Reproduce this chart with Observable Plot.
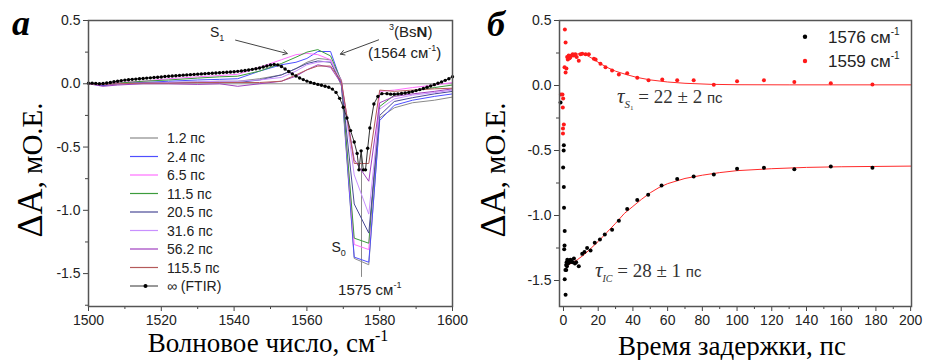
<!DOCTYPE html>
<html><head><meta charset="utf-8">
<script src="https://cdn.jsdelivr.net/npm/d3@7"></script>
<script src="https://cdn.jsdelivr.net/npm/@observablehq/plot@0.6"></script>
<style>
body{margin:0;background:#fff;}
#wrap{position:relative;width:925px;height:360px;overflow:hidden;background:#fff;}
#a{position:absolute;left:0;top:0;z-index:2;}
#b{position:absolute;left:460px;top:0;z-index:1;}
</style></head><body><div id="wrap"><div id="a"></div><div id="b"></div></div>
<script>
// ---------- Panel а: transient spectra ----------
const wavenumbers = [1500, 1504, 1508, 1515, 1522, 1530, 1536, 1541, 1547, 1553, 1557, 1560, 1563, 1566.5, 1569.5, 1573, 1577, 1580, 1584, 1589, 1595, 1600];
const spec_1_2   = [0, 0, 0.005, 0.01, 0.01, 0.015, 0.02, 0.02, 0.04, 0.07, 0.12, 0.17, 0.2, 0.19, -0.02, -1.38, -1.43, -0.27, -0.19, -0.15, -0.13, -0.105];
const spec_2_4   = [0, -0.015, 0, 0.01, 0.02, 0.03, 0.035, 0.04, 0.1, 0.15, 0.17, 0.2, 0.255, 0.255, 0.01, -1.37, -1.41, -0.29, -0.17, -0.13, -0.1, -0.08];
const spec_6_5   = [0, 0, 0.01, 0.02, 0.04, 0.055, 0.065, 0.075, 0.13, 0.19, 0.23, 0.24, 0.23, 0.19, 0.03, -1.27, -1.31, -0.06, -0.05, -0.03, -0.01, 0.01];
const spec_11_5  = [0, -0.005, 0.005, 0.02, 0.03, 0.045, 0.055, 0.06, 0.1, 0.16, 0.21, 0.25, 0.27, 0.22, 0.02, -1.22, -1.26, -0.18, -0.09, -0.06, -0.03, -0.01];
const spec_20_5  = [0, -0.01, 0, 0.005, 0.01, 0.01, 0.01, 0.01, 0.03, 0.07, 0.12, 0.16, 0.18, 0.17, 0.0, -0.95, -1.18, -0.25, -0.14, -0.11, -0.08, -0.06];
const spec_31_6  = [0, -0.005, 0, 0.005, 0.01, 0.015, 0.02, 0.02, 0.03, 0.05, 0.1, 0.15, 0.17, 0.18, 0.02, -0.72, -1.03, -0.2, -0.12, -0.09, -0.07, -0.05];
const spec_56_2  = [0, -0.02, -0.01, 0, 0, -0.005, 0, -0.02, 0.0, 0.02, 0.06, 0.11, 0.15, 0.13, 0.0, -0.6, -0.77, -0.15, -0.1, -0.08, -0.06, -0.04];
const spec_115_5 = [0, -0.005, 0, 0.005, 0.005, 0.01, 0.01, 0.01, 0.01, 0.02, 0.07, 0.11, 0.14, 0.14, 0.02, -0.63, -0.63, -0.05, -0.06, -0.05, -0.04, -0.035];
const delayLabels = ["1.2 пс", "2.4 пс", "6.5 пс", "11.5 пс", "20.5 пс", "31.6 пс", "56.2 пс", "115.5 пс"];
const delayColors = ["#8a8a8a", "#4f4fff", "#ff70ff", "#3c9c3c", "#4a4a96", "#c890ff", "#a040c0", "#b45a5a"];
const seriesValues = [spec_1_2, spec_2_4, spec_6_5, spec_11_5, spec_20_5, spec_31_6, spec_56_2, spec_115_5];

const ftirWn = [1500,1501,1502,1503,1504,1505,1506,1507,1508,1509,1510,1511,1512,1513,1514,1515,1516,1517,1518,1519,1520,1521,1522,1523,1524,1525,1526,1527,1528,1529,1530,1531,1532,1533,1534,1535,1536,1537,1538,1539,1540,1541,1542,1543,1544,1545,1546,1547,1548,1549,1550,1551,1552,1553,1554,1555,1556,1557,1558,1559,1560,1561,1562,1563,1564,1565,1566,1567,1568,1569,1570,1571,1572,1573,1573.8,1574.3,1574.9,1575.5,1576.1,1576.7,1577.3,1578.4,1579.5,1580.6,1582,1583,1584,1585,1586,1587,1588,1589,1590,1591,1592,1593,1594,1595,1596,1597,1598,1599,1600];
const ftirDA = [0.005,0.005,0.003,0.0,0.002,0.006,0.01,0.016,0.02,0.025,0.029,0.032,0.035,0.037,0.04,0.042,0.045,0.047,0.049,0.052,0.054,0.057,0.059,0.061,0.063,0.066,0.068,0.07,0.072,0.074,0.076,0.078,0.08,0.082,0.083,0.085,0.087,0.089,0.091,0.093,0.095,0.098,0.101,0.105,0.109,0.114,0.119,0.125,0.132,0.14,0.148,0.153,0.149,0.136,0.117,0.097,0.078,0.061,0.046,0.033,0.021,0.011,0.003,-0.005,-0.012,-0.02,-0.028,-0.042,-0.068,-0.115,-0.185,-0.27,-0.37,-0.46,-0.55,-0.68,-0.53,-0.68,-0.68,-0.51,-0.35,-0.16,-0.1,-0.078,-0.078,-0.082,-0.082,-0.08,-0.077,-0.073,-0.068,-0.062,-0.054,-0.046,-0.037,-0.027,-0.017,-0.007,0.004,0.015,0.027,0.04,0.055];

const xTicksA = [1500, 1520, 1540, 1560, 1580, 1600];
const xMinorA = [1510, 1530, 1550, 1570, 1590];
const yTicksA = [-1.5, -1.0, -0.5, 0.0, 0.5];
const yMinorA = [-1.75, -1.25, -0.75, -0.25, 0.25];
const arrowsA = [{x1: 1540.4, y1: 0.345, x2: 1554.6, y2: 0.239}, {x1: 1579.7, y1: 0.347, x2: 1569.2, y2: 0.234}];

// ---------- Panel б: kinetics ----------
const t1576 = [-1.7,0.2,0.1,-0.2,0.2,0.3,0.7,0.6,0.4,1.1,0.7,1.2,1.5,1.8,2.2,2.6,3,3.5,4,4.6,5.2,6,6.6,7.3,8.8,1.6,2,10.8,12.1,13.6,15.6,18,21,23.8,28,31.9,36.7,42.5,48.8,56.5,65.5,75,86.6,100,115.5,133,154,178];
const v1576 = [-0.13,-0.46,-0.5,-0.63,-0.78,-0.94,-1.12,-1.23,-1.26,-1.42,-1.49,-1.61,-1.38,-1.36,-1.34,-1.37,-1.35,-1.36,-1.34,-1.35,-1.36,-1.33,-1.37,-1.36,-1.39,-1.42,-1.39,-1.295,-1.28,-1.25,-1.27,-1.21,-1.185,-1.146,-1.11,-1.04,-0.95,-0.88,-0.84,-0.77,-0.72,-0.70,-0.685,-0.64,-0.633,-0.644,-0.623,-0.633];
const t1559 = [-1.5,-0.6,-0.2,-0.4,0.2,-0.3,-0.3,0.8,1.2,0.6,1.7,1.2,2.1,2.5,3,3.5,4,4.6,5.3,6,6.8,7.6,8.8,9.8,10.8,12.7,14.6,17.5,18.5,21.3,24.2,28,31.9,36.7,42.5,49,56.9,65.5,75,86.6,100,115.5,133,154,178];
const v1559 = [-0.07,-0.07,-0.1,-0.17,-0.3,-0.33,-0.37,0.43,0.33,0.14,0.13,0.1,0.22,0.2,0.23,0.21,0.22,0.23,0.24,0.23,0.24,0.22,0.19,0.24,0.245,0.24,0.24,0.205,0.2,0.167,0.14,0.115,0.085,0.095,0.06,0.04,0.046,0.04,0.04,0.005,0.033,0.04,0.026,0.018,0.008];
const fitT1576 = [2,5,8,12,16,20,25,30,35,40,45,50,55,60,70,80,90,100,120,140,160,200];
const fitV1576 = [-1.385,-1.365,-1.34,-1.3,-1.25,-1.2,-1.13,-1.06,-0.985,-0.93,-0.875,-0.825,-0.785,-0.755,-0.715,-0.69,-0.67,-0.655,-0.64,-0.63,-0.625,-0.62];
const fitT1559 = [2,5,9,13,17,21,25,30,36,42,50,60,70,85,100,130,200];
const fitV1559 = [0.2,0.235,0.245,0.235,0.205,0.17,0.14,0.11,0.085,0.063,0.043,0.027,0.017,0.009,0.006,0.005,0.005];
const xTicksB = [0, 20, 40, 60, 80, 100, 120, 140, 160, 180, 200];
const xMinorB = [10, 30, 50, 70, 90, 110, 130, 150, 170, 190];
const yTicksB = [-1.5, -1.0, -0.5, 0.0, 0.5];
const yMinorB = [-1.25, -0.75, -0.25, 0.25];

const sans = "'Liberation Sans', Arial, sans-serif";
const serif = "'Liberation Serif', 'Times New Roman', serif";
const fitColor = "#ff2a2a";

const spectra = delayLabels.flatMap((s, i) => wavenumbers.map((w, j) => ({w, v: seriesValues[i][j], s})));
const ftir = ftirWn.map((w, i) => ({w, v: ftirDA[i]}));

function axes(xt, xm, yt, ym) {
  return [
    Plot.axisX({ticks: xt, tickSize: 5, tickPadding: 4, fontSize: 14, tickFormat: d => String(d), label: null, stroke: "#444"}),
    Plot.axisX({ticks: xm, tickSize: 3, tickFormat: () => "", label: null, stroke: "#444"}),
    Plot.axisY({ticks: yt, tickSize: 5, tickPadding: 3, fontSize: 14, tickFormat: d => d.toFixed(1), label: null, stroke: "#444"}),
    Plot.axisY({ticks: ym, tickSize: 3, tickFormat: () => "", label: null, stroke: "#444"}),
    Plot.frame({stroke: "#555", strokeWidth: 1.5})
  ];
}

const plotA = Plot.plot({
  width: 480, height: 360, marginLeft: 88, marginRight: 28, marginTop: 20, marginBottom: 54,
  x: {domain: [1500, 1600]}, y: {domain: [-1.76, 0.5]},
  color: {domain: delayLabels, range: delayColors},
  style: {fontFamily: sans, fontSize: "14px", color: "#222", background: "none"},
  marks: [
    Plot.ruleY([0], {stroke: "#8a8a8a", strokeWidth: 1}),
    Plot.ruleX([1575], {y1: -0.53, y2: -1.53, stroke: "#8a8a8a", strokeWidth: 1}),
    Plot.line(spectra, {x: "w", y: "v", z: "s", stroke: "s", strokeWidth: 1}),
    Plot.line(ftir, {x: "w", y: "v", stroke: "#333", strokeWidth: 1}),
    Plot.dot(ftir, {x: "w", y: "v", r: 1.7, fill: "#000", stroke: "none"}),
    Plot.arrow(arrowsA, {x1: "x1", y1: "y1", x2: "x2", y2: "y2", stroke: "#444", strokeWidth: 1, headLength: 7}),
    ...axes(xTicksA, xMinorA, yTicksA, yMinorA)
  ]
});

const pts1576 = t1576.map((t, i) => ({t, v: v1576[i]}));
const pts1559 = t1559.map((t, i) => ({t, v: v1559[i]}));
const fit1576 = fitT1576.map((t, i) => ({t, v: fitV1576[i]}));
const fit1559 = fitT1559.map((t, i) => ({t, v: fitV1559[i]}));

const plotB = Plot.plot({
  width: 465, height: 360, marginLeft: 99, marginRight: 14, marginTop: 20, marginBottom: 54,
  x: {domain: [-2.3, 200.5]}, y: {domain: [-1.7, 0.5]},
  style: {fontFamily: sans, fontSize: "14px", color: "#222", background: "none"},
  marks: [
    Plot.line(fit1559, {x: "t", y: "v", stroke: fitColor, strokeWidth: 1}),
    Plot.line(fit1576, {x: "t", y: "v", stroke: fitColor, strokeWidth: 1}),
    Plot.dot(pts1576, {x: "t", y: "v", r: 2, fill: "#000", stroke: "none"}),
    Plot.dot(pts1559, {x: "t", y: "v", r: 2, fill: "#ff1a1a", stroke: "none"}),
    ...axes(xTicksB, xMinorB, yTicksB, yMinorB)
  ]
});

document.getElementById("a").append(plotA);
document.getElementById("b").append(plotB);

// ---------- rich text helpers ----------
function rich(svg, x, y, spans, o = {}) {
  const t = d3.select(svg).append("text")
    .attr("x", x).attr("y", y)
    .attr("text-anchor", o.anchor || "start")
    .attr("font-family", o.family || sans)
    .attr("font-size", o.size || 14)
    .attr("fill", o.fill || "#222");
  if (o.rotate) t.attr("transform", `rotate(${o.rotate},${x},${y})`);
  for (const s of spans) {
    const ts = t.append("tspan").text(s.text);
    if (s.size) ts.attr("font-size", s.size);
    if (s.family) ts.attr("font-family", s.family);
    if (s.italic) ts.attr("font-style", "italic");
    if (s.bold) ts.attr("font-weight", "bold");
    if (s.dy) ts.attr("dy", s.dy);
  }
  return t;
}

// Panel а texts
const xa = plotA.scale("x"), ya = plotA.scale("y");
rich(plotA, 12, 35, [{text: "а"}], {family: serif, size: 36, fill: "#000"}).attr("font-weight", "bold").attr("font-style", "italic");
rich(plotA, 42, 170, [{text: "ΔA", size: 36}, {text: ", мО.Е.", size: 29}], {family: serif, anchor: "middle", rotate: -90, fill: "#000"});
rich(plotA, 268, 352, [{text: "Волновое число, см"}, {text: "-1", size: 16, dy: -11}], {family: serif, size: 27, anchor: "middle", fill: "#000"});
rich(plotA, xa.apply(1533.5), ya.apply(0.363), [{text: "S"}, {text: "1", size: 9, dy: 4}]);
rich(plotA, xa.apply(1582.7), ya.apply(0.363), [{text: "3", size: 9, dy: -7}, {text: "(Bs", dy: 7}, {text: "N", bold: true}, {text: ")"}], {size: 15});
rich(plotA, xa.apply(1576.9), ya.apply(0.197), [{text: "(1564 см"}, {text: "-1", size: 9, dy: -7}, {text: ")", dy: 7}], {size: 15});
rich(plotA, xa.apply(1566.9), ya.apply(-1.332), [{text: "S"}, {text: "0", size: 9, dy: 4}]);
rich(plotA, xa.apply(1568.7), ya.apply(-1.673), [{text: "1575 см"}, {text: "-1", size: 9, dy: -7}], {size: 15});

// Panel а legend
const legA = d3.select(plotA).append("g");
const rowY = [138, 156.5, 175, 193.5, 212, 230.5, 249, 267.5, 286];
delayLabels.forEach((lab, i) => {
  legA.append("line").attr("x1", 130).attr("x2", 158).attr("y1", rowY[i]).attr("y2", rowY[i]).attr("stroke", delayColors[i]).attr("stroke-width", 1.2);
  rich(plotA, 167, rowY[i] + 5, [{text: lab}]);
});
legA.append("line").attr("x1", 130).attr("x2", 158).attr("y1", rowY[8]).attr("y2", rowY[8]).attr("stroke", "#333");
legA.append("circle").attr("cx", 145.5).attr("cy", rowY[8]).attr("r", 2).attr("fill", "#000");
rich(plotA, 167, rowY[8] + 5, [{text: "∞ (FTIR)"}]);

// Panel б texts
const xb = plotB.scale("x"), yb = plotB.scale("y");
rich(plotB, 27, 36, [{text: "б"}], {family: serif, size: 36, fill: "#000"}).attr("font-weight", "bold").attr("font-style", "italic");
rich(plotB, 45, 170, [{text: "ΔA", size: 36}, {text: ", мО.Е.", size: 29}], {family: serif, anchor: "middle", rotate: -90, fill: "#000"});
rich(plotB, 272, 355, [{text: "Время задержки, пс"}], {family: serif, size: 27, anchor: "middle", fill: "#000"});
rich(plotB, xb.apply(31.1), yb.apply(-0.138), [
  {text: "τ", family: serif, italic: true, size: 21},
  {text: "S", family: serif, italic: true, size: 11, dy: 5},
  {text: "1", family: serif, size: 7, dy: 2},
  {text: " = 22 ± 2 ", family: serif, size: 19, dy: -7},
  {text: "пс", size: 15}
], {fill: "#333"});
rich(plotB, xb.apply(18.4), yb.apply(-1.477), [
  {text: "τ", family: serif, italic: true, size: 21},
  {text: "IC", family: serif, italic: true, size: 10, dy: 5},
  {text: " = 28 ± 1 ", family: serif, size: 19, dy: -5},
  {text: "пс", size: 15}
], {fill: "#333"});

// Panel б legend
const legB = d3.select(plotB).append("g");
[["1576 см", "#000", 36.7], ["1559 см", "#ff1a1a", 61]].forEach(([lab, c, y]) => {
  legB.append("circle").attr("cx", 345).attr("cy", y).attr("r", 2.2).attr("fill", c);
  rich(plotB, 368, y + 6, [{text: lab}, {text: "-1", size: 10, dy: -8}], {size: 17});
});
</script>
</body></html>
